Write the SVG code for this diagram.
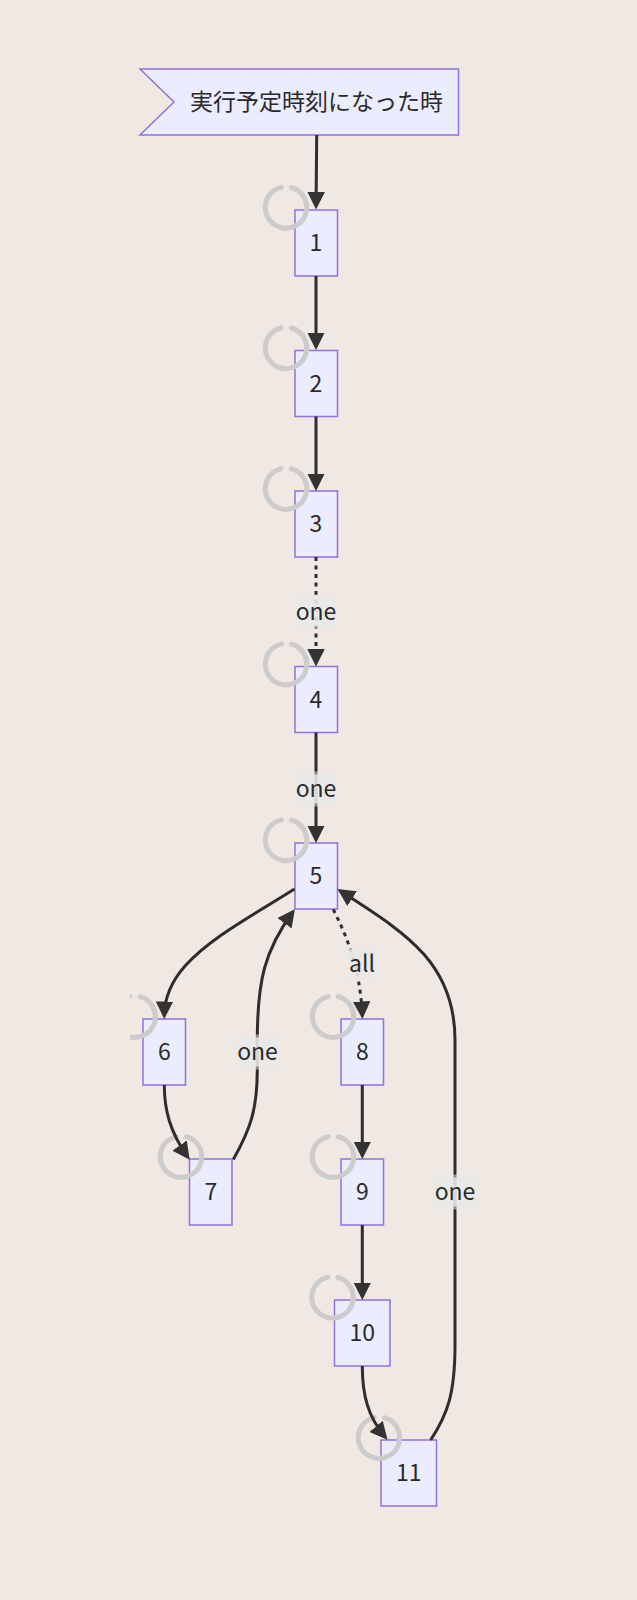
<svg xmlns="http://www.w3.org/2000/svg" width="637" height="1600" viewBox="0 0 637 1600">
<style>
.n{fill:#ECECFF;stroke:#9370DB;stroke-width:1.5}
.t{font-family:"Noto Sans CJK JP",sans-serif;font-size:23px;fill:#2a2a2a;text-anchor:middle;dominant-baseline:central}
.r{fill:none;stroke:#ccc;stroke-width:5;stroke-linecap:round;stroke-dasharray:119 11}
.e{fill:none;stroke:#2d2d2d;stroke-width:3;marker-end:url(#a)}
.d{stroke-dasharray:4 4.500}
.b{fill:#e8e8e8;fill-opacity:.8}
.o{fill:#e8e8e8;fill-opacity:.5}
</style>
<defs>
<marker id="a" viewBox="0 0 10 10" refX="8" refY="5" markerWidth="17.500" markerHeight="17.500" markerUnits="userSpaceOnUse" orient="auto"><path d="M0 0L10 5L0 10z" fill="#333"/></marker>
<clipPath id="c"><rect x="130" y="0" width="507" height="1600"/></clipPath>
</defs>
<rect width="637" height="1600" fill="#efe8e3"/>
<g id="n0"><polygon class="n" points="140,69 458.500,69 458.500,135 140,135 174,102"/><text class="t" x="316.500" y="100">実行予定時刻になった時</text></g>
<g id="n1"><rect class="n" x="295" y="210" width="42.500" height="66"/><text class="t" x="316" y="241">1</text><circle class="r" cx="286" cy="207.500" r="20.700" transform="rotate(-75 286 207.500)"/></g>
<g id="n2"><rect class="n" x="295" y="350.500" width="42.500" height="66"/><text class="t" x="316" y="381.500">2</text><circle class="r" cx="286" cy="348" r="20.700" transform="rotate(-75 286 348)"/></g>
<g id="n3"><rect class="n" x="295" y="491" width="42.500" height="66"/><text class="t" x="316" y="522">3</text><circle class="r" cx="286" cy="488.700" r="20.700" transform="rotate(-75 286 488.700)"/></g>
<g id="n4"><rect class="n" x="295" y="666.500" width="42.500" height="66"/><text class="t" x="316" y="697.500">4</text><circle class="r" cx="286" cy="664.200" r="20.700" transform="rotate(-75 286 664.200)"/></g>
<g id="n5"><rect class="n" x="295" y="843" width="42.500" height="66"/><text class="t" x="316" y="874">5</text><circle class="r" cx="286" cy="840" r="20.700" transform="rotate(-75 286 840)"/></g>
<g id="n6"><rect class="n" x="143" y="1019" width="42.500" height="66"/><text class="t" x="164.300" y="1050">6</text><g clip-path="url(#c)"><circle class="r" cx="134.600" cy="1016.700" r="20.700" transform="rotate(-75 134.600 1016.700)"/></g></g>
<g id="n7"><rect class="n" x="189.500" y="1159" width="42.500" height="66"/><text class="t" x="211" y="1190">7</text><circle class="r" cx="181" cy="1156.700" r="20.700" transform="rotate(-75 181 1156.700)"/></g>
<g id="n8"><rect class="n" x="341" y="1019" width="42.500" height="66"/><text class="t" x="362.300" y="1050">8</text><circle class="r" cx="333" cy="1016.700" r="20.700" transform="rotate(-75 333 1016.700)"/></g>
<g id="n9"><rect class="n" x="341" y="1159" width="42.500" height="66"/><text class="t" x="362.300" y="1190">9</text><circle class="r" cx="333" cy="1156.700" r="20.700" transform="rotate(-75 333 1156.700)"/></g>
<g id="n10"><rect class="n" x="334.500" y="1300" width="55.500" height="66"/><text class="t" x="362.300" y="1331">10</text><circle class="r" cx="332.500" cy="1297.300" r="20.700" transform="rotate(-75 332.500 1297.300)"/></g>
<g id="n11"><rect class="n" x="381" y="1440" width="55.500" height="66"/><text class="t" x="408.700" y="1471">11</text><circle class="r" cx="379" cy="1437.700" r="20.700" transform="rotate(-75 379 1437.700)"/></g>
<g id="connectors">
<path class="e" d="M316.700 135L316.050 206"/>
<path class="e" d="M316 276V346.500"/>
<path class="e" d="M316 416.500V487.500"/>
<path class="e d" d="M316 557V663"/>
<path class="e" d="M316 732.500V839.500"/>
<path class="e" d="M294.500 889C250 917 210 938 185 966C170 983 164.500 1000 164.300 1015.500"/>
<path class="e" d="M164.300 1085C164.300 1110 170 1132 187.700 1157"/>
<path class="e" d="M233.300 1159.500C250 1130 257.300 1110 257.300 1070V1040C257.300 980 265 950 292.800 912"/>
<path class="e d" d="M333.300 909.500C345 933 360 965 362.300 1015.500"/>
<path class="e" d="M362.300 1085V1155.500"/>
<path class="e" d="M362.300 1225V1296.500"/>
<path class="e" d="M362.300 1366C362.300 1395 368 1417 385.200 1437"/>
<path class="e" d="M430.700 1440C447 1415 455 1395 455 1345V1040C455 960 400 930 340.400 891"/>
</g>
<g id="labels">
<rect class="o" x="294.500" y="594.500" width="43" height="35"/><rect class="b" x="296" y="597.500" width="40" height="29"/><text class="t" x="316" y="610">one</text>
<rect class="o" x="294.500" y="771.500" width="43" height="35"/><rect class="b" x="296" y="774.500" width="40" height="29"/><text class="t" x="316" y="787">one</text>
<rect class="o" x="236" y="1034.500" width="43" height="35"/><rect class="b" x="237.500" y="1037.500" width="40" height="29"/><text class="t" x="257.500" y="1050">one</text>
<rect class="o" x="346.500" y="946.500" width="31" height="35"/><rect class="b" x="348" y="949.500" width="28" height="29"/><text class="t" x="362" y="962">all</text>
<rect class="o" x="433.500" y="1174.500" width="43" height="35"/><rect class="b" x="435" y="1177.500" width="40" height="29"/><text class="t" x="455" y="1190">one</text>
</g>
</svg>
